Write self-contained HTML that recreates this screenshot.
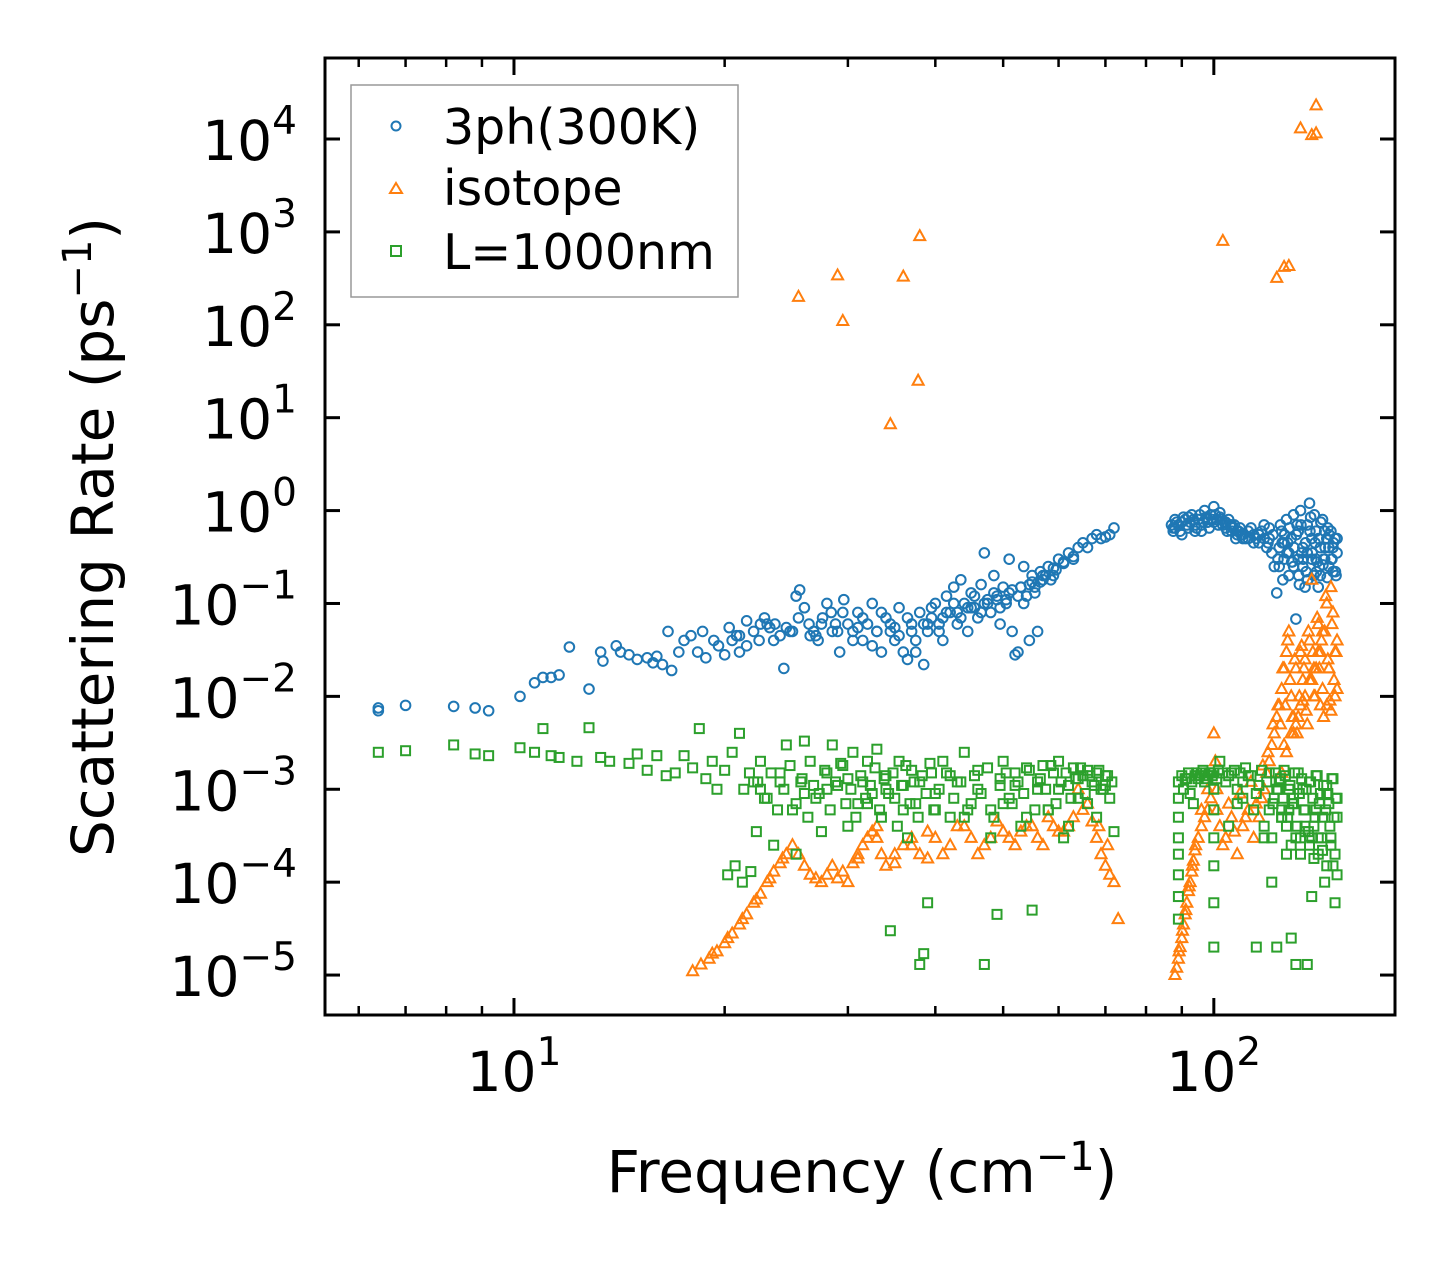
<!DOCTYPE html>
<html><head><meta charset="utf-8"><style>
body{margin:0;background:#fff}
svg{display:block;font-family:"DejaVu Sans","Liberation Sans",sans-serif}
</style></head><body>
<svg id="chart" width="1455" height="1265" viewBox="0 0 1455 1265" xmlns="http://www.w3.org/2000/svg">
<rect width="1455" height="1265" fill="#fff"/>
<g id="marks"></g>
<g id="axes"></g>
<rect x="325" y="58" width="1070" height="957" fill="none" stroke="#000" stroke-width="3"/>
<g>
<rect x="351" y="85" width="387" height="212" fill="#fff" fill-opacity="0.85" stroke="#999" stroke-width="1.5"/>
<circle cx="396" cy="126" r="4.5" fill="none" stroke="#1f77b4" stroke-width="2"/>
<text x="443" y="144" font-size="49">3ph(300K)</text>
<path d="M396,183 L402,193 L390,193 Z" fill="none" stroke="#ff7f0e" stroke-width="2"/>
<text x="443" y="205" font-size="49">isotope</text>
<rect x="391" y="246" width="10" height="10" fill="none" stroke="#2ca02c" stroke-width="2"/>
<text x="443" y="269" font-size="49">L=1000nm</text>
</g>
<text transform="translate(113,537) rotate(-90)" text-anchor="middle" font-size="58">Scattering Rate (ps<tspan dy="-22" font-size="40">−1</tspan><tspan dy="22">)</tspan></text>
<text x="862" y="1192" text-anchor="middle" font-size="58">Frequency (cm<tspan dy="-22" font-size="40">−1</tspan><tspan dy="22">)</tspan></text>
</svg>
<script>
const blueF=[6.4,6.4,7,8.2,8.8,9.2,10.2,10.7,11,11.3,11.6,12,12.8,13.3,13.4,14,14.2,14.6,15,15.5,15.8,16,16.3,16.6,16.8,17.2,17.5,17.9,18.3,18.6,18.8,19.3,19.6,20,20.3,20.8,21,21.5,22,22.4,22.8,23.2,23.6,24,24.3,24.8,25.3,25.6,26,26.4,26.8,27.2,27.6,28,28.4,28.8,29.2,29.6,30,30.5,31,31.5,32,32.5,33,33.5,34,34.5,35,35.5,36,36.5,37,37.5,38,38.5,39,39.5,40,40.5,41,41.5,42,42.5,43,43.5,44,44.5,45,45.5,46,46.5,47,47.5,48,48.5,49,49.5,50,50.5,51,51.5,52,52.5,53,53.5,54,54.5,55,55.5,56,56.5,57,58,59,60,61,62,63,64,65,66,67,68,69,70,71,72,
21,23,25,27,29,31,33,35,37,39,41,43,45,47,49,51,53,55,57,59,61,63,
87,87.5,88,89,90,91,92,93,94,95,96,97,98,99,100,101,102,103,104,105,106,107,108,109,110,112,114,116,118,119,120,121,122,123,124,125,126,127,128,129,130,131,132,133,134,135,136,137,138,139,140,141,142,143,144,145,146,147,148,149,150,
88,90,92,94,96,98,100,102,104,106,108,110,112,114,116,118,120,124,126,128,130,132,134,136,138,140,142,144,146,148,150,125.5,127.5,129.5,131.5,133.5,135.5,137.5,139.5,141.5,143.5,145.5,147.5,149.5,124.5,132.5,140.5];
const blueR=[7e-3,7.5e-3,8e-3,7.8e-3,7.5e-3,7e-3,1e-2,1.4e-2,1.6e-2,1.6e-2,1.7e-2,3.4e-2,1.2e-2,3e-2,2.4e-2,3.5e-2,3e-2,2.8e-2,2.5e-2,2.6e-2,2.3e-2,2.7e-2,2.2e-2,5e-2,1.9e-2,3e-2,4e-2,4.5e-2,3e-2,5e-2,2.6e-2,4e-2,3.5e-2,2.8e-2,5.5e-2,4.5e-2,3e-2,6.5e-2,5e-2,4e-2,7e-2,5.5e-2,6e-2,4.5e-2,2e-2,5e-2,1.2e-1,1.4e-1,9e-2,6e-2,5e-2,4e-2,7e-2,1e-1,8e-2,6e-2,3e-2,1.1e-1,6e-2,5e-2,8e-2,4e-2,6e-2,1e-1,5e-2,3e-2,7e-2,5e-2,4e-2,9e-2,3e-2,2.5e-2,6e-2,4e-2,8e-2,2.2e-2,5e-2,7e-2,1e-1,6e-2,4e-2,1.2e-1,8e-2,1.5e-1,6e-2,1.8e-1,1e-1,5e-2,1.3e-1,9e-2,7e-2,1.6e-1,3.5e-1,1.1e-1,8e-2,2e-1,1.2e-1,6e-2,1.5e-1,1e-1,3e-1,5e-2,2.8e-2,3e-2,1.5e-1,2.5e-1,1.2e-1,4e-2,2e-1,1.5e-1,5e-2,2.2e-1,1.8e-1,2.5e-1,2e-1,3e-1,2.7e-1,3.5e-1,3e-1,4e-1,4.5e-1,4e-1,5e-1,5.5e-1,5e-1,5.2e-1,5.5e-1,6.5e-1,
4.5e-2,6e-2,5e-2,4.5e-2,5e-2,5.5e-2,5e-2,5.5e-2,5e-2,6e-2,7e-2,8e-2,9e-2,1e-1,1.1e-1,1.3e-1,1.5e-1,1.7e-1,2e-1,2.4e-1,2.8e-1,3.2e-1,
7e-1,6e-1,8e-1,7e-1,5.5e-1,8e-1,6.5e-1,9e-1,7e-1,8e-1,6e-1,1e0,7.5e-1,9e-1,1.1e0,8e-1,9.5e-1,7e-1,6.5e-1,8e-1,6e-1,7e-1,5.5e-1,6.5e-1,5e-1,6e-1,4.5e-1,5.5e-1,7e-1,4e-1,5e-1,3.5e-1,2.5e-1,1.3e-1,4e-1,6e-1,3e-1,8e-1,2e-1,5e-1,9e-1,6.8e-2,3e-1,1e0,4e-1,1.5e-1,7e-1,1.2e0,3e-1,2e-1,6e-1,1.5e-1,4e-1,8e-1,3e-1,5e-1,2.5e-1,6e-1,4e-1,5e-1,3.5e-1,
6.5e-1,7.5e-1,8.5e-1,6e-1,7e-1,8e-1,7.5e-1,8.5e-1,7.5e-1,7e-1,6e-1,5.5e-1,5e-1,5.5e-1,4.5e-1,5e-1,6.5e-1,2.5e-1,4.5e-1,3.5e-1,2.5e-1,6e-1,2.5e-1,3.5e-1,5e-1,3e-1,2e-1,6e-1,4e-1,2.2e-1,5e-1,1.8e-1,4.5e-1,2.8e-1,7e-1,3.5e-1,2.2e-1,8.5e-1,4.5e-1,2.5e-1,3e-1,6.5e-1,3e-1,2e-1,7e-1,1.6e-1,2.8e-1];
const blueF2=[20.5,21.5,22.5,23.5,24.5,25.5,26.5,27.5,28.5,29.5,30.5,31.5,32.5,33.5,34.5,35.5,36.5,37.5,38.5,39.5,40.5,41.5,42.5,43.5,44.5,45.5,46.5,47.5,48.5,49.5,50.5,51.5,52.5,53.5,54.5,55.5,56.5,57.5,58.5,59.5,
87.5,88.5,89.5,90.5,91.5,92.5,93.5,94.5,95.5,96.5,97.5,98.5,99.5,100.5,101.5,102.5,103.5,104.5,105.5,106.5,107.5,108.5,109.5,111,113,115,117,119.5,121.5,123.5,125.2,126.2,127.2,128.2,129.2,130.2,131.2,132.2,133.2,134.2,135.2,136.2,137.2,138.2,139.2,140.2,141.2,142.2,143.2,144.2,145.2,146.2,147.2,148.2,149.2];
const blueR2=[4e-2,3.5e-2,6e-2,4e-2,5.5e-2,7e-2,4.5e-2,6e-2,5e-2,8e-2,4e-2,7e-2,3.5e-2,8e-2,6e-2,4.5e-2,7e-2,3e-2,6e-2,9e-2,5e-2,8e-2,1e-1,7e-2,9e-2,1.2e-1,8e-2,1e-1,1.3e-1,9e-2,1.1e-1,1.4e-1,1.2e-1,1e-1,1.6e-1,1.3e-1,1.7e-1,2e-1,1.8e-1,2.3e-1,
6.5e-1,7.5e-1,6e-1,8.5e-1,7e-1,7.5e-1,8e-1,6.5e-1,9e-1,7.5e-1,8.5e-1,6.5e-1,8e-1,9e-1,7e-1,8e-1,7.5e-1,6e-1,7e-1,6.5e-1,5e-1,6e-1,5.5e-1,5e-1,6.5e-1,5e-1,6e-1,4.5e-1,5.5e-1,3e-1,4.5e-1,5.5e-1,3.5e-1,6.5e-1,2.8e-1,4e-1,5.5e-1,2e-1,7e-1,3e-1,4.5e-1,1.8e-1,6e-1,3.5e-1,9e-1,2.2e-1,5e-1,7.5e-1,2.6e-1,4e-1,1.9e-1,5.5e-1,3e-1,4.5e-1,2.2e-1,3.8e-1,4.5e-1];
const orangeF=[25.5,29,29.5,34.5,36,37.8,38,103,123,126,128,133,138,140,140,
18,18.5,19,19.5,20,20.5,21,21.5,22,22.5,23,23.5,24,24.5,25,25.5,26,26.5,27,27.5,28,28.5,29,29.5,30,30.5,31,31.5,32,32.5,33,33.5,34,35,36,37,38,39,40,42,44,46,48,50,52,54,56,58,60,62,64,66,67,68,69,70,71,72,73,
88,88.5,89,89.5,90,90.5,91,91.5,92,92.5,93,93.5,94,95,96,97,98,99,100,100.5,101,102,104,106,108,110,112,114,116,117,118,119,120,121,122,123,124,125,126,127,128,129,130,131,132,133,134,135,136,137,138,139,140,141,142,143,144,145,146,147,148,149,150,
125,127,129,131,133,135,137,139,141,143,145,147,149,126,130,134,138,142,146,150];
const orangeR=[200,340,110,8.5,330,25,900,800,320,420,430,13000,11000,11500,23000,
1.1e-5,1.3e-5,1.5e-5,1.8e-5,2.2e-5,2.8e-5,3.5e-5,4.5e-5,6e-5,7.5e-5,1e-4,1.3e-4,1.6e-4,2e-4,2.5e-4,2e-4,1.5e-4,1.2e-4,1.1e-4,1e-4,1.2e-4,1.5e-4,1.1e-4,1.3e-4,1e-4,1.6e-4,2e-4,2.5e-4,3e-4,3.5e-4,4e-4,2e-4,1.5e-4,1.6e-4,2.5e-4,3e-4,2e-4,1.8e-4,3e-4,2.5e-4,4e-4,2e-4,3e-4,3.5e-4,2.5e-4,4e-4,3e-4,5e-4,3.5e-4,4e-4,1e-3,7e-4,4.5e-4,3e-4,2e-4,1.5e-4,1.2e-4,1e-4,4e-5,
1e-5,1.2e-5,1.5e-5,2e-5,2.5e-5,3.5e-5,4.5e-5,6e-5,8e-5,1e-4,1.3e-4,1.7e-4,2.2e-4,3e-4,4e-4,5e-4,6e-4,8e-4,4e-3,2e-3,1e-3,4e-4,3e-4,5e-4,2e-4,4e-4,6e-4,3e-4,5e-4,8e-4,1e-3,1.5e-3,2e-3,3e-3,4e-3,6e-3,8e-3,1.2e-2,2e-2,3e-2,5e-2,1e-2,4e-3,2e-2,6e-3,3e-2,1.5e-2,2.5e-2,5e-3,4e-2,1.8e-1,1e-2,2e-2,6e-2,3e-2,1.2e-2,5e-2,8e-3,2e-2,1.5e-1,8e-2,3e-2,1.2e-2,
1.5e-3,2.5e-3,4e-3,5e-3,8e-3,1e-2,1.5e-2,2e-2,3e-2,5e-2,1e-1,7e-3,1e-2,3e-3,6e-3,9e-3,1.5e-2,8e-3,2e-2,4e-2];
const orangeF2=[19.2,20.2,21.2,22.2,23.2,24.2,31,33,35,37,39,41,43,45,47,49,51,53,55,57,59,61,63,65,68.5,70.5,
89.2,90.2,91.2,92.2,93.2,94.2,96,98,101,103,105,107,109,111,113,115,117.5,119.5,121.5,123.5,124.5,125.5,126.5,127.5,128.5,129.5,130.5,131.5,132.5,133.5,134.5,135.5,136.5,137.5,138.5,139.5,140.5,141.5,142.5,143.5,144.5,145.5,146.5,147.5,148.5,149.5];
const orangeR2=[1.7e-5,2.5e-5,4e-5,6.5e-5,1.1e-4,1.8e-4,1.8e-4,3e-4,2e-4,2.5e-4,3.5e-4,2e-4,4e-4,3e-4,2.5e-4,4.5e-4,3e-4,3.5e-4,4e-4,2.5e-4,4e-4,3.5e-4,5e-4,6e-4,4e-4,2.5e-4,
1.8e-5,3e-5,5e-5,9e-5,1.5e-4,2.5e-4,6e-4,1e-3,6e-4,2.5e-4,7e-4,3.5e-4,9e-4,5e-4,1.2e-3,7e-4,1.8e-3,2.5e-3,5e-3,8e-3,5e-3,2e-2,8e-3,4e-2,1.5e-2,6e-3,2.5e-2,4e-3,1e-2,3.5e-2,2e-2,7e-3,5e-2,1.5e-2,3e-2,1e-2,7e-2,2e-2,4e-2,6e-3,1.2e-1,2.5e-2,9e-3,6e-2,1.5e-2,3e-2];
const greenF=[6.4,7,8.2,8.8,9.2,10.2,10.7,11,11.3,11.6,12.3,12.8,13.3,13.7,14.6,15,15.5,16,16.5,17,17.5,18,18.4,18.8,19.2,19.5,20,20.5,21,21.3,21.7,22,22.2,22.5,23,23.5,24,24.5,25,25.3,25.7,26,26.5,27,27.5,28,28.5,29,29.5,30,30.5,31,31.5,32,32.5,33,33.5,34,34.5,35,35.5,36,36.5,37,37.5,38,38.5,39,39.5,40,41,42,43,44,45,46,47,48,49,49.5,50,51,52,53,54,55,56,57,58,59,60,61,62,63,64,65,66,67,68,69,70,71,72,
22.5,24,26,28,30,32,34,36,38,40,42,44,46,48,50,52,54,56,58,60,62,64,66,68,70,
89,89,89,89,89,89,89,89,90,91,92,93,94,95,96,97,98,99,100,100,100,100,100,100,100,101,102,104,106,108,110,112,114,116,118,120,121,122,123,124,125,126,127,128,129,130,131,132,133,134,135,136,137,138,139,140,141,142,143,144,145,146,147,148,149,150,
105,110,115,120,125,130,135,140,145,150,108,118,128,138,148];
const greenR=[2.5e-3,2.6e-3,3e-3,2.4e-3,2.3e-3,2.8e-3,2.5e-3,4.5e-3,2.3e-3,2.2e-3,2e-3,4.6e-3,2.2e-3,2e-3,1.9e-3,2.4e-3,1.6e-3,2.3e-3,1.4e-3,1.5e-3,2.3e-3,1.7e-3,4.5e-3,1.3e-3,2e-3,1e-3,1.6e-3,2.5e-3,4e-3,1e-3,1.5e-3,1.2e-3,3.5e-4,2e-3,8e-4,2.5e-4,1.5e-3,3e-3,6e-4,2e-4,1.2e-3,3.3e-3,2e-3,8e-4,3.5e-4,1.5e-3,3e-3,1.1e-3,1.8e-3,4e-4,2.5e-3,7e-4,1.2e-3,2e-3,9e-4,2.7e-3,5e-4,1.4e-3,3e-5,8e-4,2e-3,1.1e-3,3e-4,1.6e-3,7e-4,1.3e-5,1.7e-5,6e-5,1.5e-3,9e-4,2e-3,5e-4,1.2e-3,2.5e-3,7e-4,1.6e-3,1.3e-5,3e-4,4.5e-5,1.3e-3,2e-3,8e-4,1.5e-3,4e-4,1.7e-3,5e-5,1e-3,1.8e-3,6e-4,1.5e-3,2e-3,3e-4,1.1e-3,1.7e-3,8e-4,1.4e-3,1.6e-3,1.2e-3,1.5e-3,1e-3,1.1e-3,8e-4,3.5e-4,
1e-3,1.2e-3,9e-4,1e-3,1.3e-3,7e-4,1e-3,6e-4,1.2e-3,6e-4,1.4e-3,5e-4,1e-3,6e-4,7e-4,1.1e-3,5e-4,1.2e-3,6e-4,1e-3,4e-4,1.3e-3,7e-4,5e-4,1.4e-3,
1.2e-3,8e-4,5e-4,3e-4,2e-4,1.2e-4,7e-5,4e-5,1.4e-3,1.3e-3,1.5e-3,1.2e-3,1.4e-3,1.3e-3,1.5e-3,1.2e-3,1.4e-3,1.5e-3,1.5e-3,1e-3,6e-4,3e-4,1.5e-4,6e-5,2e-5,1.3e-3,2e-3,1.2e-3,1.5e-3,1e-3,8e-4,1.4e-3,6e-4,1.1e-3,3e-4,1.5e-3,1e-4,8e-4,2e-5,1.2e-3,5e-4,1.6e-3,2e-4,1e-3,2.5e-5,8e-4,1.3e-5,1.5e-3,3e-4,1e-3,6e-4,1.3e-5,1.2e-3,7e-5,4e-4,1.4e-3,2e-4,9e-4,5e-4,1e-4,1.1e-3,7e-4,3e-4,1.3e-3,6e-5,8e-4,4e-4,1.2e-3,2e-5,6e-4,
5e-4,7e-4,4e-4,6e-4,9e-4,5e-4,7e-4,4e-4,6e-4,3e-4,1.5e-4,1.2e-4,1.5e-4,1e-4,1.3e-4];
const greenF2=[20.2,20.7,21.2,21.8,22.3,22.8,23.3,23.8,24.3,24.8,25.3,25.8,26.3,26.8,27.3,27.8,28.3,28.8,29.3,29.8,30.3,30.8,31.3,31.8,32.3,32.8,33.3,33.8,34.3,34.8,35.3,35.8,36.3,36.8,37.3,37.8,38.3,38.8,39.3,39.8,40.5,41.5,42.5,43.5,44.5,45.5,46.5,47.5,48.5,49.5,50.5,51.5,52.5,53.5,54.5,55.5,56.5,57.5,58.5,59.5,60.5,61.5,62.5,63.5,64.5,65.5,66.5,67.5,68.5,69.5,70.5,71.5,
90.5,91.5,92.5,93.5,94.5,95.5,96.5,97.5,98.5,99.5,101.5,103,105,107,109,111,113,115,117,119,121.5,122.5,123.5,124.5,125.5,126.5,127.5,128.5,129.5,130.5,131.5,132.5,133.5,134.5,135.5,136.5,137.5,138.5,139.5,140.5,141.5,142.5,143.5,144.5,145.5,146.5,147.5,148.5,149.5,
121,123,125,127,129,131,133,135,137,139,141,143,145,147,149,150];
const greenR2=[1.2e-3,8e-4,1.5e-3,6e-4,1e-3,1.8e-3,7e-4,1.3e-3,5e-4,1.1e-3,9e-4,1.6e-3,6e-4,1.2e-3,1.9e-3,7e-4,1e-3,5e-4,1.4e-3,8e-4,1.1e-3,1.7e-3,6e-4,1.3e-3,9e-4,1.5e-3,4e-4,1.1e-3,1.8e-3,7e-4,1.2e-3,5e-4,1.4e-3,9e-4,1.9e-3,6e-4,1e-3,1.5e-3,8e-4,1.2e-3,6e-4,1.4e-3,9e-4,1.7e-3,5e-4,1.1e-3,1.5e-3,7e-4,1.2e-3,9e-4,1.6e-3,6e-4,1.3e-3,1e-3,1.8e-3,7e-4,1.2e-3,1.5e-3,8e-4,1.3e-3,1.7e-3,9e-4,1.4e-3,1.1e-3,1.6e-3,1e-3,1.4e-3,1.2e-3,1e-3,1.3e-3,9e-4,7e-4,
1.5e-3,1.4e-3,1.6e-3,1.3e-3,1.5e-3,1.4e-3,1.6e-3,1.5e-3,1.4e-3,1.6e-3,1.5e-3,1.7e-3,1.4e-3,9e-4,1.6e-3,1.2e-3,7e-4,1.5e-3,1e-3,1.3e-3,8e-4,1.4e-3,5e-4,1.1e-3,7e-4,1.5e-3,4e-4,9e-4,1.3e-3,6e-4,1e-3,3.5e-4,1.2e-3,8e-4,5e-4,1.4e-3,7e-4,3e-4,1.1e-3,6e-4,9e-4,4e-4,1.3e-3,5e-4,8e-4,3e-4,1e-3,6e-4,4e-4,
2.5e-4,3e-4,2e-4,3.5e-4,2.5e-4,1.8e-4,3e-4,2.2e-4,1.5e-4,2.5e-4,2e-4,1.2e-4,2.8e-4,1.6e-4,2.2e-4,1.8e-4];

const yTickExp=[-5,-4,-3,-2,-1,0,1,2,3,4];
const xTickExp=[1,2];
const X0=325,X1=1395,Y0=58,Y1=1015;
const lxMin=Math.log10(5.37),lxMax=Math.log10(181.5),lyMin=-5.43,lyMax=4.872;
function xs(f){return X0+(Math.log10(f)-lxMin)/(lxMax-lxMin)*(X1-X0);}
function ys(r){return Y1-(Math.log10(r)-lyMin)/(lyMax-lyMin)*(Y1-Y0);}
const NS="http://www.w3.org/2000/svg";
const marks=document.getElementById('marks'),axes=document.getElementById('axes');
function mk(tag,attrs,parent){const e=document.createElementNS(NS,tag);for(const k in attrs)e.setAttribute(k,attrs[k]);parent.appendChild(e);return e;}

const bF=blueF.concat(blueF2),bR=blueR.concat(blueR2);
const oF=orangeF.concat(orangeF2),oR=orangeR.concat(orangeR2);
const gFa=greenF.concat(greenF2),gRa=greenR.concat(greenR2);

const gB=mk('g',{},marks);


bF.forEach((f,i)=>{const c=mk('circle',{cx:xs(f),cy:ys(bR[i]),r:4.8,fill:'none',stroke:'#1f77b4','stroke-width':2},gB);

});
const gO=mk('g',{},marks);


oF.forEach((f,i)=>{const x=xs(f),y=ys(oR[i]);const p=mk('path',{d:`M${x},${y-6} L${x+5.5},${y+4} L${x-5.5},${y+4} Z`,fill:'none',stroke:'#ff7f0e','stroke-width':2},gO);

});
const gG=mk('g',{},marks);


gFa.forEach((f,i)=>{const x=xs(f),y=ys(gRa[i]);const s=mk('rect',{x:x-4.5,y:y-4.5,width:9,height:9,fill:'none',stroke:'#2ca02c','stroke-width':2},gG);

});

yTickExp.forEach(e=>{const y=ys(Math.pow(10,e));
mk('line',{x1:X0,x2:X0+15,y1:y,y2:y,stroke:'#000','stroke-width':3},axes);
mk('line',{x1:X1,x2:X1-15,y1:y,y2:y,stroke:'#000','stroke-width':3},axes);
const t=mk('text',{x:297,y:y+21,'text-anchor':'end','font-size':55},axes);


t.innerHTML=`10<tspan dy="-26" font-size="39">${e<0?'−'+(-e):e}</tspan>`;});
const minors=[6,7,8,9,20,30,40,50,60,70,80,90];
minors.forEach(f=>{const x=xs(f);
mk('line',{x1:x,x2:x,y1:Y1,y2:Y1-9,stroke:'#000','stroke-width':2.5},axes);
mk('line',{x1:x,x2:x,y1:Y0,y2:Y0+9,stroke:'#000','stroke-width':2.5},axes);});
xTickExp.forEach(e=>{const x=xs(Math.pow(10,e));
mk('line',{x1:x,x2:x,y1:Y1,y2:Y1-17,stroke:'#000','stroke-width':3},axes);
mk('line',{x1:x,x2:x,y1:Y0,y2:Y0+17,stroke:'#000','stroke-width':3},axes);
const t=mk('text',{x:x,y:1091,'text-anchor':'middle','font-size':55},axes);


t.innerHTML=`10<tspan dy="-26" font-size="39">${e}</tspan>`;});
</script>
</body></html>
